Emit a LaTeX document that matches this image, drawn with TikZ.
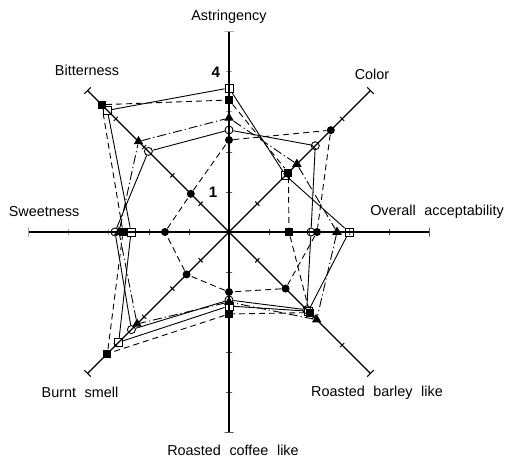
\documentclass[tikz,border=0pt]{standalone}
\usepackage{fontspec}
\setmainfont{Liberation Sans}
\usetikzlibrary{shapes.geometric}

\newcommand{\widespace}{\spaceskip=4.3pt\relax}

\tikzset{
	radaxis/.style={line width=0.6pt},
	axistick/.style={draw, line width=0.5pt, sloped, inner sep=0pt, minimum width=0pt, minimum height=3pt},
	axisend/.style={axistick, minimum height=4.5pt},
	fcirc/.style={circle, fill=black, inner sep=0pt, minimum size=4pt},
	ocirc/.style={circle, draw, line width=0.45pt, inner sep=0pt, minimum size=4pt},
	ftri/.style={regular polygon, regular polygon sides=3, fill=black, inner sep=0pt, minimum size=5.5pt},
	osq/.style={rectangle, draw, line width=0.45pt, inner sep=0pt, minimum size=4pt},
	fsq/.style={rectangle, fill=black, inner sep=0pt, minimum size=4pt},
	serie/.style={line width=0.45pt},
	dashline/.style={serie, dash pattern=on 3pt off 2pt},
	dashdotline/.style={serie, dash pattern=on 4.5pt off 1.5pt on 0.6pt off 1.5pt},
	lab/.style={font=\fontsize{7.2}{8.6}\selectfont},
	num/.style={font=\fontsize{7.6}{9}\selectfont\bfseries}
}

\begin{document}
\begin{tikzpicture}[x=20pt, y=20pt]
		\useasboundingbox (-5.725,-5.7) rectangle (7.225,5.8);
		
		%Axes
		\coordinate (centre) at (0,0);
		\coordinate (astr) at (90:5);
		\coordinate (color) at (45:5);
		\coordinate (overall) at (0:5);
		\coordinate (barley) at (-45:5);
		\coordinate (coffee) at (-90:5);
		\coordinate (burnt) at (-135:5);
		\coordinate (sweet) at (180:5);
		\coordinate (bitter) at (135:5);
		
		\draw[radaxis] (centre) -- (astr) node[axistick, pos=0.2]{} node[axistick, pos=0.4]{} 
		node[axistick, pos=0.6]{} node[axistick, pos=0.8]{} node[axisend, pos=1]{};
		\draw[radaxis] (centre) -- (color) node[axistick, pos=0.2]{} node[axistick, pos=0.4]{} 
		node[axistick, pos=0.6]{} node[axistick, pos=0.8]{} node[axisend, pos=1]{};
		\draw[radaxis] (centre) -- (overall) node[axistick, pos=0.2]{} node[axistick, pos=0.4]{} 
		node[axistick, pos=0.6]{} node[axistick, pos=0.8]{} node[axisend, pos=1]{};
		\draw[radaxis] (centre) -- (barley) node[axistick, pos=0.2]{} node[axistick, pos=0.4]{} 
		node[axistick, pos=0.6]{} node[axistick, pos=0.8]{} node[axisend, pos=1]{};
		\draw[radaxis] (centre) -- (coffee) node[axistick, pos=0.2]{} node[axistick, pos=0.4]{} 
		node[axistick, pos=0.6]{} node[axistick, pos=0.8]{} node[axisend, pos=1]{};
		\draw[radaxis] (centre) -- (burnt) node[axistick, pos=0.2]{} node[axistick, pos=0.4]{} 
		node[axistick, pos=0.6]{} node[axistick, pos=0.8]{} node[axisend, pos=1]{};
		\draw[radaxis] (centre) -- (sweet) node[axistick, pos=0.2]{} node[axistick, pos=0.4]{} 
		node[axistick, pos=0.6]{} node[axistick, pos=0.8]{} node[axisend, pos=1]{};
		\draw[radaxis] (centre) -- (bitter) node[axistick, pos=0.2]{} node[axistick, pos=0.4]{} 
		node[axistick, pos=0.6]{} node[axistick, pos=0.8]{} node[axisend, pos=1]{};
		
		%Axis names
		\node[lab] (astrLabel) at (0,5.375) {Astringency};
		\node[lab] (colorLabel) at (3.575,3.95) {Color};
		\node[lab] (overallLabel) at (5.2,0.5) {\widespace Overall acceptability};
		\node[lab] (barleyLabel) at (3.7,-4.025) {\widespace Roasted barley like};
		\node[lab] (coffeeLabel) at (0.1,-5.45) {\widespace Roasted coffee like};
		\node[lab] (burntLabel) at (-3.725,-4.0) {\widespace Burnt smell};
		\node[lab] (sweetLabel) at (-4.625,0.5) {Sweetness};
		\node[lab] (bitterLabel) at (-3.55,4.05) {Bitterness};
		
		%Scale numbers
		\node[num] (fourLabel) at (-0.33,4.0) {4};
		\node[num] (oneLabel) at (-0.4,1.0) {1};
		
		%Filled circles
		\node[fcirc] (fcircle1) at (90:2.3) {};
		\node[fcirc] (fcircle2) at (45:3.6) {};
		\node[fcirc] (fcircle3) at (0:2.2) {};
		\node[fcirc] (fcircle4) at (-45:2.0) {};
		\node[fcirc] (fcircle5) at (-90:1.5) {};
		\node[fcirc] (fcircle6) at (-135:1.5) {};
		\node[fcirc] (fcircle7) at (180:1.6) {};
		\node[fcirc] (fcircle8) at (135:1.35) {};
		
		%Open circles
		\node[ocirc] (ocircle1) at (90:2.55) {};
		\node[ocirc] (ocircle2) at (45:3.05) {};
		\node[ocirc] (ocircle3) at (0:2.05) {};
		\node[ocirc] (ocircle4) at (-45:2.75) {};
		\node[ocirc] (ocircle5) at (-90:1.7) {};
		\node[ocirc] (ocircle6) at (-135:3.45) {};
		\node[ocirc] (ocircle7) at (180:2.85) {};
		\node[ocirc] (ocircle8) at (135:2.85) {};
		
		%Filled triangles
		\node[ftri] (ftriangle1) at (90:2.85) {};
		\node[ftri] (ftriangle2) at (45:2.4) {};
		\node[ftri] (ftriangle3) at (0:2.7) {};
		\node[ftri] (ftriangle4) at (-45:3.1) {};
		\node[ftri] (ftriangle5) at (-90:1.75) {};
		\node[ftri] (ftriangle6) at (-135:3.25) {};
		\node[ftri] (ftriangle7) at (180:2.75) {};
		\node[ftri] (ftriangle8) at (135:3.2) {};
		
		%Open squares
		\node[osq] (osquare1) at (90:3.6) {};
		\node[osq] (osquare2) at (45:2.0) {};
		\node[osq] (osquare3) at (0:3.0) {};
		\node[osq] (osquare4) at (-45:2.8) {};
		\node[osq] (osquare5) at (-90:1.85) {};
		\node[osq] (osquare6) at (-135:3.9) {};
		\node[osq] (osquare7) at (180:2.45) {};
		\node[osq] (osquare8) at (135:4.3) {};
		
		%Filled squares
		\node[fsq] (fsquare1) at (90:3.3) {};
		\node[fsq] (fsquare2) at (45:2.1) {};
		\node[fsq] (fsquare3) at (0:1.5) {};
		\node[fsq] (fsquare4) at (-45:2.85) {};
		\node[fsq] (fsquare5) at (-90:2.05) {};
		\node[fsq] (fsquare6) at (-135:4.3) {};
		\node[fsq] (fsquare7) at (180:2.65) {};
		\node[fsq] (fsquare8) at (135:4.5) {};
		
		%Links
		\draw[dashline] (fcircle1) -- (fcircle2) -- (fcircle3) -- (fcircle4) -- (fcircle5) 
		-- (fcircle6) -- (fcircle7) -- (fcircle8) -- (fcircle1);
		
		\draw[serie] (ocircle1) -- (ocircle2) -- (ocircle3) -- (ocircle4) -- (ocircle5) 
		-- (ocircle6) -- (ocircle7) -- (ocircle8) -- (ocircle1);
		
		\draw[dashdotline] (ftriangle1) -- (ftriangle2) -- (ftriangle3) -- (ftriangle4) 
		-- (ftriangle5) -- (ftriangle6) -- (ftriangle7) -- (ftriangle8) -- (ftriangle1);
		
		\draw[serie] (osquare1) -- (osquare2) -- (osquare3) -- (osquare4) -- (osquare5) 
		-- (osquare6) -- (osquare7) -- (osquare8) -- (osquare1);
		
		\draw[dashline] (fsquare1) -- (fsquare2) -- (fsquare3) -- (fsquare4) -- (fsquare5) 
		-- (fsquare6) -- (fsquare7) -- (fsquare8) -- (fsquare1);
		\end{tikzpicture}
\end{document}
